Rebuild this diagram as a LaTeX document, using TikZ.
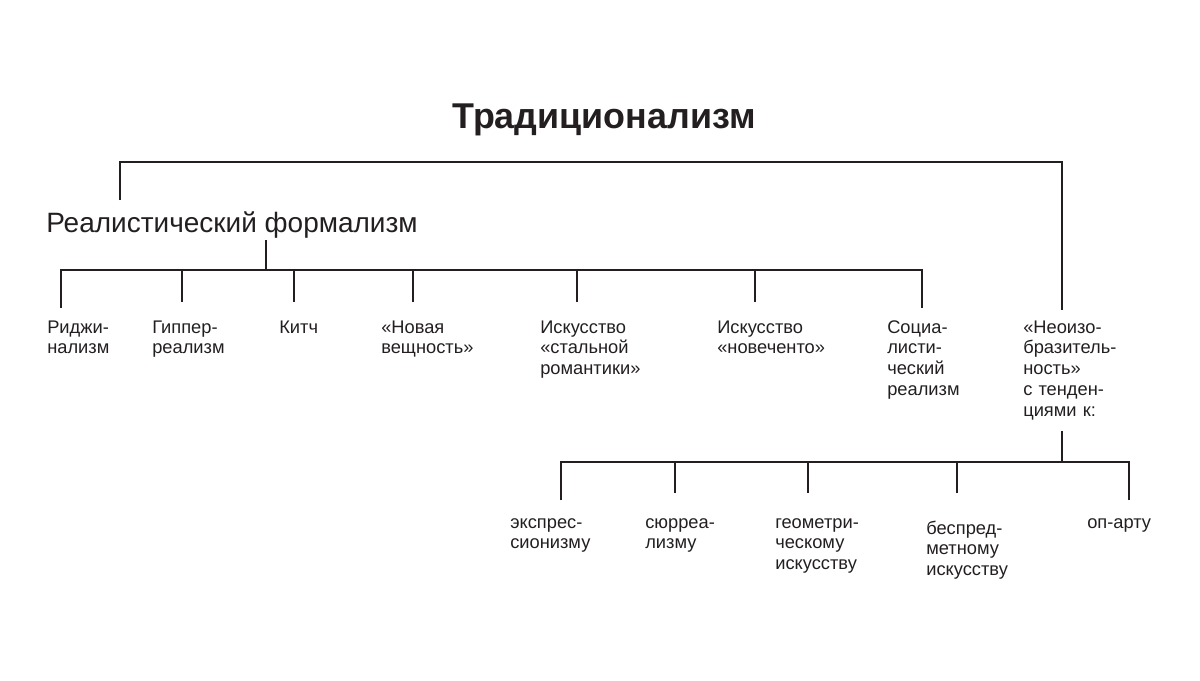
\documentclass[tikz,border=0pt]{standalone}
\usepackage{fontspec}
\setmainfont{Liberation Sans}
\usetikzlibrary{positioning}
\definecolor{ink}{RGB}{35,31,32}
\tikzset{
  link/.style={draw=ink, line width=1.5pt},
  leaf/.style={anchor=base west, align=left, text width=4cm, inner xsep=0pt,
    inner ysep=12.7pt, text height=9.3pt, text=ink,
    font=\fontsize{13}{14.9}\selectfont},
  branch/.style={anchor=base west, inner xsep=0pt, inner ysep=1.5pt,
    text height=21pt, text=ink, font=\fontsize{19.9}{23}\selectfont},
  root/.style={anchor=base, inner sep=0pt, text=ink,
    font=\fontsize{25.5}{30}\selectfont\bfseries}
}
\begin{document}
\begin{tikzpicture}[x=0.025cm, y=-0.025cm]
  \useasboundingbox (0,0) rectangle (1200,680);
  \node[root] (trad) at (604,128) {Традиционализм};
  \node[branch] (rf) at (46,232) {Реалистический формализм};
  % first row
  \node[leaf, inner ysep=8.5pt] (rid) at (47,333) {Риджи-\\нализм};
  \node[leaf] (gip) at (152,333) {Гиппер-\\реализм};
  \node[leaf] (kit) at (279,333) {Китч};
  \node[leaf] (nov) at (381,333) {«Новая\\вещность»};
  \node[leaf] (stal) at (540,333) {Искусство\\«стальной\\романтики»};
  \node[leaf] (nove) at (717,333) {Искусство\\«новеченто»};
  \node[leaf, inner ysep=8.5pt] (soc) at (887,333) {Социа-\\листи-\\ческий\\реализм};
  \node[leaf, inner ysep=7pt] (neo) at (1023,333) {«Неоизо-\\бразитель-\\ность»\\с тенден-\\циями к:};
  % second row
  \node[leaf, inner ysep=10.1pt] (eks) at (510,528) {экспрес-\\сионизму};
  \node[leaf, inner ysep=15.6pt] (sur) at (645,528) {сюрреа-\\лизму};
  \node[leaf, inner ysep=15.6pt] (geo) at (775,528) {геометри-\\ческому\\искусству};
  \node[leaf, inner ysep=19.6pt] (bes) at (926,534) {беспред-\\метному\\искусству};
  \node[leaf, inner ysep=10.1pt] (opa) at (1087,528) {оп-арту};
  % connectors
  \draw[link] (rf.north -| 120,0) -- (120,162) -| (neo.north -| 1062,0);
  \draw[link] (rf.south -| 266,0) -- (266,270);
  \draw[link] (rid.north -| 61,0) -- (61,270) -| (soc.north -| 922,0);
  \foreach \n/\x in {gip/182, kit/294, nov/413, stal/577, nove/755}
    \draw[link] (\x,270) -- (\n.north -| \x,0);
  \draw[link] (neo.south -| 1062,0) -- (1062,462);
  \draw[link] (eks.north -| 561,0) -- (561,462) -| (opa.north -| 1129,0);
  \foreach \n/\x in {sur/675, geo/808, bes/957}
    \draw[link] (\x,462) -- (\n.north -| \x,0);
\end{tikzpicture}
\end{document}
